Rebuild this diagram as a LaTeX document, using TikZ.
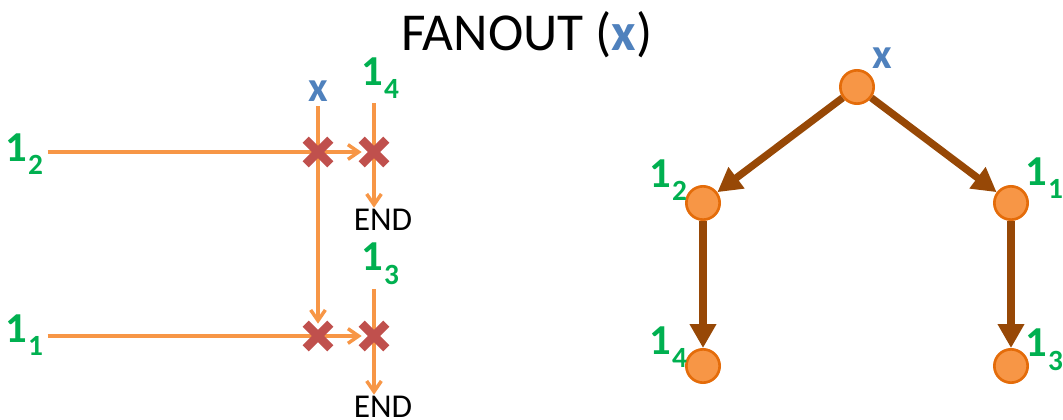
\documentclass[tikz,border=0pt]{standalone}
\usepackage{fontspec}
\setmainfont{Carlito}
\usetikzlibrary{arrows.meta,shapes.misc,backgrounds}

\definecolor{lineorange}{HTML}{F79646}
\definecolor{nodeorange}{HTML}{F79646}
\definecolor{rimorange}{HTML}{E46C0A}
\definecolor{crossred}{HTML}{C0504D}
\definecolor{edgebrown}{HTML}{974806}
\definecolor{labelgreen}{HTML}{00B050}
\definecolor{varblue}{HTML}{4F81BD}

\newcommand{\onesub}[1]{1\kern1pt\raisebox{-0.32em}{\fontsize{22}{22}\selectfont\bfseries #1}}

\tikzset{
    lbl/.style={font=\fontsize{32}{32}\selectfont\bfseries, text=labelgreen},
    varlbl/.style={font=\fontsize{32}{32}\selectfont\bfseries, text=varblue},
    endlbl/.style={font=\fontsize{25}{25}\selectfont, inner sep=1pt},
    crossmark/.style={cross out, draw=crossred, line width=6.5pt, minimum size=12pt, inner sep=0pt},
    wire/.style={draw=lineorange, line width=2.8pt},
    wirearrow/.style={wire, -{Straight Barb[length=8pt,width=11pt,line width=2.6pt]}},
    treenode/.style={circle, fill=nodeorange, draw=rimorange, line width=2pt, minimum size=25pt, inner sep=0pt},
    treeedge/.style={draw=edgebrown, line width=5.5pt, -{Triangle[length=18pt,width=19pt]}},
}

\begin{document}
\begin{tikzpicture}[x=0.75pt, y=-0.75pt]
    \useasboundingbox (0,0) rectangle (1063,420);

    \node (title) at (527,35) {\fontsize{40}{40}\selectfont FANOUT (\textcolor{varblue}{\bfseries x})};

    % left part: the two rows
    \node[crossmark] (c1) at (318,152) {};
    \node[crossmark] (c2) at (374,152) {};
    \node[crossmark] (c3) at (318,336) {};
    \node[crossmark] (c4) at (374,336) {};

    \node[lbl] (l2) at (24,154) {\onesub{2}};
    \node[lbl] (l1) at (24,335) {\onesub{1}};
    \node[varlbl] (lx) at (318,91) {x};
    \node[lbl] (l4) at (380,78) {\onesub{4}};
    \node[lbl] (l3) at (380,264) {\onesub{3}};
    \node[endlbl] (end1) at (383,220) {END};
    \node[endlbl] (end2) at (383,407) {END};

    \begin{scope}[on background layer]
        \draw[wire] (l2.east |- c1) -- (c1.center);
        \draw[wire] (l1.east |- c3) -- (c3.center);
        \draw[wirearrow] (c1.center) -- (c2);
        \draw[wirearrow] (c3.center) -- (c4);
        \draw[wirearrow] (lx.south) -- (c3);
        \draw[wire] (l4.south -| c2) -- (c2.center);
        \draw[wire] (l3.south -| c4) -- (c4.center);
        \draw[wirearrow] (c2.center) -- (end1.north -| c2);
        \draw[wirearrow] (c4.center) -- (end2.north -| c4);
    \end{scope}

    % right part: the tree
    \node[treenode] (tx) at (857,87) {};
    \node[treenode] (t2) at (703,203) {};
    \node[treenode] (t1) at (1011,203) {};
    \node[treenode] (t4) at (703,366) {};
    \node[treenode] (t3) at (1011,366) {};

    \node[varlbl] (tlx) at (882,58) {x};
    \node[lbl] (tl2) at (668,180) {\onesub{2}};
    \node[lbl] (tl1) at (1044,178) {\onesub{1}};
    \node[lbl] (tl4) at (668,347) {\onesub{4}};
    \node[lbl] (tl3) at (1044,350) {\onesub{3}};

    \draw[treeedge] (tx) -- (t2);
    \draw[treeedge] (tx) -- (t1);
    \draw[treeedge] (t2) -- (t4);
    \draw[treeedge] (t1) -- (t3);
\end{tikzpicture}
\end{document}
